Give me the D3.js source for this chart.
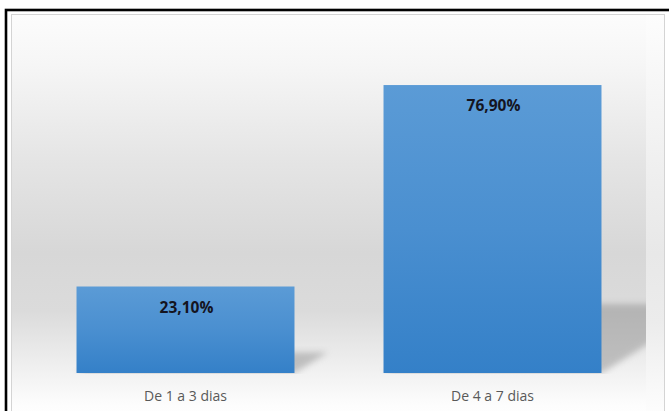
<!DOCTYPE html>
<html>
<head>
<meta charset="utf-8">
<script src="https://cdn.jsdelivr.net/npm/d3@7"></script>
<style>
  html, body { margin: 0; padding: 0; background: #ffffff; }
  svg { display: block; }
</style>
</head>
<body>
<svg id="chart" width="669" height="411"></svg>
<script>
// Share of respondents by number of days
const categories = ["De 1 a 3 dias", "De 4 a 7 dias"];
const values = [23.1, 76.9];
const valueLabels = ["23,10%", "76,90%"];

const W = 669, H = 411;
const svg = d3.select("#chart");
const defs = svg.append("defs");

// Chart-area background: light at top and bottom, gray in the middle
const bg = defs.append("linearGradient").attr("id", "bgGrad")
  .attr("x1", 0).attr("y1", 0).attr("x2", 0).attr("y2", 1);
[[0, "#fcfcfc"], [0.12, "#f6f6f6"], [0.35, "#e5e5e5"], [0.58, "#d7d7d7"],
 [0.72, "#dbdbdb"], [0.86, "#f0f0f0"], [0.95, "#fdfdfd"], [1, "#ffffff"]]
  .forEach(([o, c]) => bg.append("stop").attr("offset", o).attr("stop-color", c));

const bgLight = defs.append("linearGradient").attr("id", "bgLight")
  .attr("x1", 0).attr("y1", 0).attr("x2", 0).attr("y2", 1);
[[0, "#fdfdfd"], [0.35, "#f0f0f0"], [0.58, "#e8e8e8"], [0.75, "#ececec"],
 [0.9, "#f8f8f8"], [1, "#ffffff"]]
  .forEach(([o, c]) => bgLight.append("stop").attr("offset", o).attr("stop-color", c));

// Bar fill: lighter blue at the top, deeper blue at the bottom
const barGrad = defs.append("linearGradient").attr("id", "barGrad")
  .attr("x1", 0).attr("y1", 0).attr("x2", 0).attr("y2", 1);
[[0, "#5b9bd6"], [0.5, "#4a8fd0"], [1, "#3480c8"]]
  .forEach(([o, c]) => barGrad.append("stop").attr("offset", o).attr("stop-color", c));

const blur = defs.append("filter").attr("id", "shadowBlur")
  .attr("x", "-30%").attr("y", "-30%").attr("width", "160%").attr("height", "160%");
blur.append("feGaussianBlur").attr("stdDeviation", 3);

// Outer frame
svg.append("rect").attr("x", 12).attr("y", 15).attr("width", 653).attr("height", H)
  .attr("fill", "url(#bgGrad)");

// Scales
const x = d3.scaleBand().domain(categories).range([32, 646])
  .paddingInner(0.29).paddingOuter(0.145);
const y = d3.scaleLinear().domain([0, 90]).range([373, 36]);

svg.append("rect").attr("x", x.range()[1]).attr("y", 15)
  .attr("width", 665 - x.range()[1]).attr("height", H)
  .attr("fill", "url(#bgLight)");

svg.append("rect").attr("x", 11.5).attr("y", 14.5).attr("width", 653).attr("height", H)
  .attr("fill", "none").attr("stroke", "#d4d4d4").attr("stroke-width", 1);
svg.append("rect").attr("x", 6).attr("y", 10).attr("width", W + 20).attr("height", H + 20)
  .attr("fill", "none").attr("stroke", "#000000").attr("stroke-width", 2.6);

// Plot clip for the perspective shadows
defs.append("clipPath").attr("id", "plotClip")
  .append("rect").attr("x", x.range()[0]).attr("y", 0)
  .attr("width", x.range()[1] - x.range()[0]).attr("height", y(0) + 1);

const base = y(0);
const shadowG = svg.append("g").attr("clip-path", "url(#plotClip)");
shadowG.selectAll("path").data(values).join("path")
  .attr("d", (d, i) => {
    const x0 = x(categories[i]), x1 = x0 + x.bandwidth();
    const h = base - y(d);
    const sh = h * 0.24;        // shadow height
    const dx = sh / 0.62;       // sideways lean
    return `M${x0},${base} L${x1},${base} L${x1 + dx},${base - sh} L${x0 + dx},${base - sh} Z`;
  })
  .attr("fill", "#8f8f8f")
  .attr("opacity", 0.5)
  .attr("filter", "url(#shadowBlur)");

// Bars
svg.selectAll("rect.bar").data(values).join("rect")
  .attr("class", "bar")
  .attr("x", (d, i) => x(categories[i]))
  .attr("y", d => y(d))
  .attr("width", x.bandwidth())
  .attr("height", d => base - y(d))
  .attr("fill", "url(#barGrad)");

// Value labels inside the bars
svg.selectAll("text.val").data(values).join("text")
  .attr("class", "val")
  .attr("x", (d, i) => x(categories[i]) + x.bandwidth() / 2 + 1)
  .attr("y", d => y(d) + 26)
  .attr("text-anchor", "middle")
  .attr("font-family", "'Open Sans', sans-serif")
  .attr("font-weight", "bold")
  .attr("font-size", "15.5px")
  .attr("fill", "#14141f")
  .text((d, i) => valueLabels[i]);

// Category axis labels
const xAxis = d3.axisBottom(x).tickSize(0).tickPadding(0);
const axisG = svg.append("g").attr("transform", `translate(0,${base})`).call(xAxis);
axisG.select(".domain").remove();
axisG.selectAll("text")
  .attr("y", 27.5)
  .attr("dy", null)
  .attr("font-family", "'Open Sans', sans-serif")
  .attr("font-size", "14px")
  .attr("fill", "#595959");
</script>
</body>
</html>
